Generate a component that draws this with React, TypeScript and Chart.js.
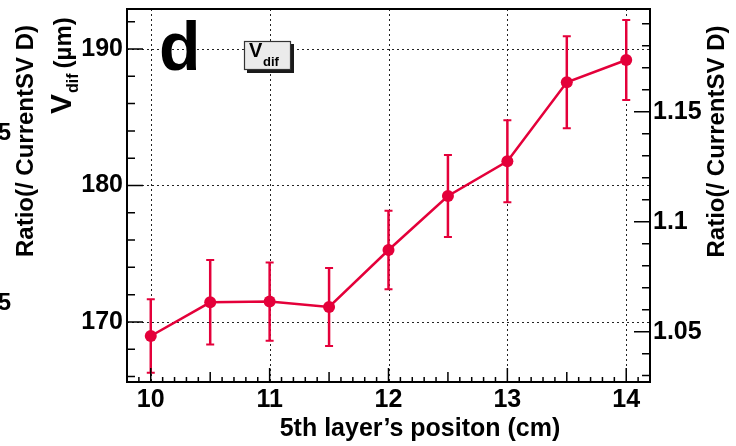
import React, { useEffect, useRef } from "react";
import { Chart, registerables } from "chart.js";

Chart.register(...registerables);

const FONT = '"Liberation Sans", Arial, Helvetica, sans-serif';
const RED = "rgb(228,0,58)";

// Data
const positions = [10, 10.5, 11, 11.5, 12, 12.5, 13, 13.5, 14];
const vdifValues = [168.97, 171.44, 171.49, 171.1, 175.27, 179.23, 181.77, 187.56, 189.19];
const vdifErrors = [2.7, 3.1, 2.86, 2.86, 2.87, 3.0, 3.0, 3.37, 2.93];

// Axes
const xTicks = [10, 11, 12, 13, 14];
const leftTicks = [170, 180, 190];
const rightTicks = [1.05, 1.1, 1.15];
const xRange = [9.8, 14.2];
const leftRange = [165.6, 192.93];
const rightRange = [1.0271, 1.1967];

const xTitle = "5th layer\u2019s positon (cm)";
const rightTitle = "Ratio(/ CurrentSV D)";

const noPad = (s: any) => {
  s.paddingTop = 0;
  s.paddingBottom = 0;
  s.paddingLeft = 0;
  s.paddingRight = 0;
};

export default function App() {
  const ref = useRef<HTMLCanvasElement | null>(null);

  useEffect(() => {
    document.body.style.margin = "0";
    const canvas = ref.current;
    if (!canvas) return;

    const decorations = {
      id: "decorations",
      beforeDatasetsDraw(chart: any) {
        const { ctx, chartArea: a, scales } = chart;
        const xs = scales.x, yl = scales.y;
        ctx.save();
        // dotted grid
        ctx.strokeStyle = "#222";
        ctx.lineWidth = 1;
        ctx.setLineDash([2, 3]);
        xTicks.forEach((v) => {
          const px = Math.round(xs.getPixelForValue(v)) + 0.5;
          ctx.beginPath();
          ctx.moveTo(px, a.top);
          ctx.lineTo(px, a.bottom);
          ctx.stroke();
        });
        leftTicks.forEach((v) => {
          const py = Math.round(yl.getPixelForValue(v)) + 0.5;
          ctx.beginPath();
          ctx.moveTo(a.left, py);
          ctx.lineTo(a.right, py);
          ctx.stroke();
        });
        ctx.setLineDash([]);
        // error bars
        ctx.strokeStyle = RED;
        positions.forEach((x, i) => {
          const px = xs.getPixelForValue(x);
          const top = yl.getPixelForValue(vdifValues[i] + vdifErrors[i]);
          const bot = yl.getPixelForValue(vdifValues[i] - vdifErrors[i]);
          ctx.lineWidth = 2.5;
          ctx.beginPath();
          ctx.moveTo(px, top);
          ctx.lineTo(px, bot);
          ctx.stroke();
          ctx.lineWidth = 2;
          ctx.beginPath();
          ctx.moveTo(px - 4, top);
          ctx.lineTo(px + 4, top);
          ctx.moveTo(px - 4, bot);
          ctx.lineTo(px + 4, bot);
          ctx.stroke();
        });
        ctx.restore();
      },
      afterDraw(chart: any) {
        const { ctx, chartArea: a, scales } = chart;
        const xs = scales.x, yl = scales.y, yr = scales.y2;
        ctx.save();
        // frame
        ctx.strokeStyle = "#000";
        ctx.lineWidth = 2;
        ctx.strokeRect(a.left, a.top, a.right - a.left, a.bottom - a.top);
        // inward ticks
        ctx.lineWidth = 1.5;
        ctx.beginPath();
        for (let k = 1; k < 44; k++) {
          const v = xRange[0] + k * 0.1;
          const r = Math.round(v * 10);
          const len = r % 10 === 0 ? 14 : r % 5 === 0 ? 10 : 5;
          const px = xs.getPixelForValue(v);
          ctx.moveTo(px, a.bottom);
          ctx.lineTo(px, a.bottom - len);
        }
        for (let v = 166; v <= 192; v += 2) {
          const len = leftTicks.includes(v) ? 16 : 8;
          const py = yl.getPixelForValue(v);
          ctx.moveTo(a.left, py);
          ctx.lineTo(a.left + len, py);
        }
        for (let k = 103; k <= 119; k++) {
          const len = k % 5 === 0 ? 16 : 8;
          const py = yr.getPixelForValue(k / 100);
          ctx.moveTo(a.right, py);
          ctx.lineTo(a.right - len, py);
        }
        ctx.stroke();

        ctx.fillStyle = "#000";
        // x title
        ctx.font = `bold 25px ${FONT}`;
        ctx.textAlign = "center";
        ctx.textBaseline = "alphabetic";
        ctx.fillText(xTitle, 420, 436);

        // right title
        ctx.font = `bold 24px ${FONT}`;
        ctx.save();
        ctx.translate(724, 141.5);
        ctx.rotate(-Math.PI / 2);
        ctx.textAlign = "center";
        ctx.fillText(rightTitle, 0, 0);
        ctx.restore();

        // clipped neighbour text on the far left
        ctx.save();
        ctx.translate(33, 141);
        ctx.rotate(-Math.PI / 2);
        ctx.textAlign = "center";
        ctx.fillText(rightTitle, 0, 0);
        ctx.restore();
        ctx.textAlign = "right";
        ctx.fillText("5", 11, 140);
        ctx.fillText("5", 11, 310);

        // left title V_dif (µm)
        ctx.save();
        ctx.translate(71, 114);
        ctx.rotate(-Math.PI / 2);
        ctx.textAlign = "left";
        ctx.font = `bold 30px ${FONT}`;
        ctx.fillText("V", 0, 0);
        let w = ctx.measureText("V").width;
        ctx.font = `bold 16px ${FONT}`;
        ctx.fillText("dif", w + 1, 7);
        w += 1 + ctx.measureText("dif").width + 5;
        ctx.font = `bold 24px ${FONT}`;
        ctx.fillText("(\u00b5m)", w, 0);
        ctx.restore();

        // panel label
        ctx.font = `bold 68px ${FONT}`;
        ctx.textAlign = "left";
        ctx.fillText("d", 159, 70);

        // V_dif legend box
        ctx.fillStyle = "#1a1a1a";
        ctx.fillRect(247, 44, 47, 29);
        ctx.fillStyle = "#ebebeb";
        ctx.fillRect(244, 41, 47, 29);
        ctx.strokeStyle = "#333";
        ctx.lineWidth = 1.2;
        ctx.strokeRect(244.5, 41.5, 46, 28);
        ctx.fillStyle = "#000";
        ctx.font = `bold 20px ${FONT}`;
        ctx.fillText("V", 249, 57);
        ctx.font = `bold 13px ${FONT}`;
        ctx.fillText("dif", 263, 66);

        ctx.restore();
      },
    };

    const tickFont = { family: FONT, size: 25, weight: "bold" };

    const chart = new Chart(canvas, {
      type: "line",
      data: {
        datasets: [
          {
            data: positions.map((x, i) => ({ x, y: vdifValues[i] })),
            borderColor: RED,
            backgroundColor: RED,
            borderWidth: 2.5,
            pointRadius: 6,
            pointBackgroundColor: RED,
            pointBorderWidth: 0,
            yAxisID: "y",
            xAxisID: "x",
          },
        ],
      },
      options: {
        responsive: false,
        animation: false,
        layout: { padding: { top: 9, left: 0, right: 0, bottom: 0 } },
        plugins: { legend: { display: false }, tooltip: { enabled: false } },
        scales: {
          x: {
            type: "linear",
            position: "bottom",
            min: xRange[0],
            max: xRange[1],
            grid: { display: false, drawTicks: false },
            border: { display: false },
            afterBuildTicks: (s: any) => {
              s.ticks = xTicks.map((v) => ({ value: v }));
            },
            afterFit: (s: any) => {
              s.height = 64;
              noPad(s);
            },
            ticks: {
              autoSkip: false,
              maxRotation: 0,
              padding: 3,
              color: "#000",
              font: tickFont,
              callback: (v: any) => String(v),
            },
          },
          y: {
            type: "linear",
            position: "left",
            min: leftRange[0],
            max: leftRange[1],
            grid: { display: false, drawTicks: false },
            border: { display: false },
            afterBuildTicks: (s: any) => {
              s.ticks = leftTicks.map((v) => ({ value: v }));
            },
            afterFit: (s: any) => {
              s.width = 127;
              noPad(s);
            },
            ticks: {
              padding: 4,
              color: "#000",
              font: tickFont,
              callback: (v: any) => String(v),
            },
          },
          y2: {
            type: "linear",
            position: "right",
            min: rightRange[0],
            max: rightRange[1],
            grid: { display: false, drawTicks: false },
            border: { display: false },
            afterBuildTicks: (s: any) => {
              s.ticks = rightTicks.map((v) => ({ value: v }));
            },
            afterFit: (s: any) => {
              s.width = 86;
              noPad(s);
            },
            ticks: {
              padding: 3,
              color: "#000",
              font: tickFont,
              callback: (v: any) => String(Number(Number(v).toFixed(2))),
            },
          },
        },
      },
      plugins: [decorations],
    } as any);

    return () => chart.destroy();
  }, []);

  return (
    <div style={{ position: "absolute", left: 0, top: 0, width: 736, height: 446 }}>
      <canvas ref={ref} width={736} height={446} style={{ width: 736, height: 446, display: "block" }} />
    </div>
  );
}
